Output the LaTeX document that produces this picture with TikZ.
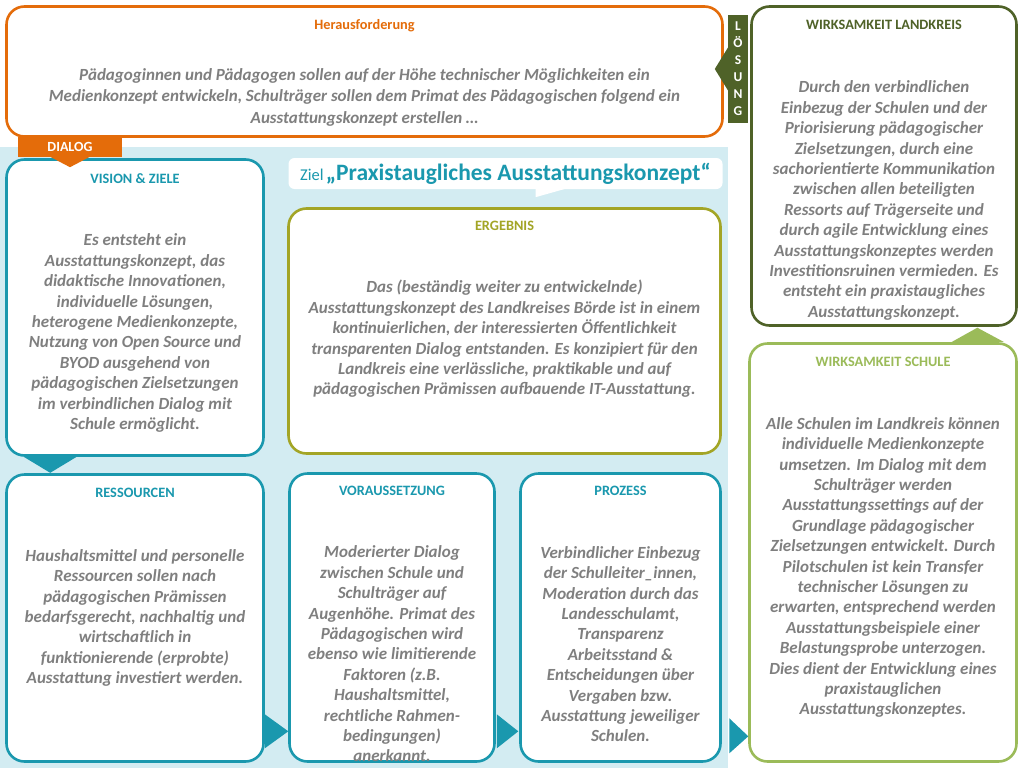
\documentclass[tikz,border=0pt]{standalone}
\usepackage{fontspec}
\setmainfont{Carlito}
\usetikzlibrary{calc,positioning}
\definecolor{bdteal}{HTML}{1A98AE}
\definecolor{bdorange}{HTML}{E46C0A}
\definecolor{bddarkgreen}{HTML}{4F6228}
\definecolor{bdlightgreen}{HTML}{9BBB59}
\definecolor{bdolive}{HTML}{A3A526}
\definecolor{bdgray}{HTML}{7F7F7F}
\definecolor{bdbg}{HTML}{D3ECF2}

\begin{document}
\begin{tikzpicture}[x=1pt, y=-1pt,
    card/.style={draw, line width=2.6pt, rounded corners=18pt, fill=white, inner sep=0pt},
    cardtitle/.style={font=\bfseries\fontsize{14.3}{16}\selectfont, inner sep=0pt,
      text height=9.5pt, text depth=2pt},
    cardtext/.style={font=\bfseries\itshape\fontsize{17}{20.4}\selectfont, text=bdgray,
      align=center, inner sep=0pt, execute at begin node=\strut},
    tab/.style={inner sep=0pt, text=white, font=\bfseries\fontsize{14}{15}\selectfont}
  ]
    \useasboundingbox (0,0) rectangle (1024,768);
    \fill[bdbg] (0,147) rectangle (728,768);

    \node[card, draw=bdorange, minimum width=716, minimum height=130] (challenge) at (364.5,71.5) {};
    \node[card, draw=bddarkgreen, minimum width=265, minimum height=319] (landkreis) at (884,166) {};
    \node[card, draw=bdlightgreen, minimum width=267, minimum height=418] (schule) at (883,552.5) {};
    \node[card, draw=bdteal, minimum width=257, minimum height=296] (vision) at (135,307.5) {};
    \node[card, draw=bdolive, minimum width=432, minimum height=245] (ergebnis) at (504.5,331) {};
    \node[card, draw=bdteal, minimum width=257, minimum height=287] (ressourcen) at (135,618) {};
    \node[card, draw=bdteal, minimum width=205, minimum height=288] (voraussetzung) at (392,617.5) {};
    \node[card, draw=bdteal, minimum width=200, minimum height=288] (prozess) at (620.5,617.5) {};

    \node[fill=white, rounded corners=6pt, minimum width=434, minimum height=31, inner sep=0pt, text=bdteal] (ziel) at (505.5,173.5)
      {{\fontsize{16.5}{18}\selectfont Ziel} {\bfseries\fontsize{23.5}{25}\selectfont „Praxistaugliches Ausstattungskonzept“}};
    \fill[white] ($(ziel.south)+(30,-1)$) -- ($(ziel.south)+(62,-1)$) -- ($(ziel.south)+(30,8)$) -- cycle;

    \node[cardtitle, text=bdorange, below=14.5pt of challenge.north] (challengetitle) {Herausforderung};
    \node[cardtitle, text=bddarkgreen, below=14.5pt of landkreis.north] (landkreistitle) {WIRKSAMKEIT LANDKREIS};
    \node[cardtitle, text=bdlightgreen, below=14.5pt of schule.north] (schuletitle) {WIRKSAMKEIT SCHULE};
    \node[cardtitle, text=bdteal, below=16pt of vision.north] (visiontitle) {VISION \& ZIELE};
    \node[cardtitle, text=bdolive, below=13.5pt of ergebnis.north] (ergebnistitle) {ERGEBNIS};
    \node[cardtitle, text=bdteal, below=15pt of ressourcen.north] (ressourcentitle) {RESSOURCEN};
    \node[cardtitle, text=bdteal, below=13.5pt of voraussetzung.north] (voraussetzungtitle) {VORAUSSETZUNG};
    \node[cardtitle, text=bdteal, below=13.5pt of prozess.north] (prozesstitle) {PROZESS};

    \node[cardtext, font=\bfseries\itshape\fontsize{17}{21.5}\selectfont, below=63pt of challenge.north] (challengetext)
      {Pädagoginnen und Pädagogen sollen auf der Höhe technischer Möglichkeiten ein\\Medienkonzept entwickeln, Schulträger sollen dem Primat des Pädagogischen folgend ein\\Ausstattungskonzept erstellen …};
    \node[cardtext, below=75.5pt of landkreis.north] (landkreistext)
      {Durch den verbindlichen\\Einbezug der Schulen und der\\Priorisierung pädagogischer\\Zielsetzungen, durch eine\\sachorientierte Kommunikation\\zwischen allen beteiligten\\Ressorts auf Trägerseite und\\durch agile Entwicklung eines\\Ausstattungskonzeptes werden\\Investitionsruinen vermieden. Es\\entsteht ein praxistaugliches\\Ausstattungskonzept.};
    \node[cardtext, below=75pt of schule.north] (schuletext)
      {Alle Schulen im Landkreis können\\individuelle Medienkonzepte\\umsetzen. Im Dialog mit dem\\Schulträger werden\\Ausstattungssettings auf der\\Grundlage pädagogischer\\Zielsetzungen entwickelt. Durch\\Pilotschulen ist kein Transfer\\technischer Lösungen zu\\erwarten, entsprechend werden\\Ausstattungsbeispiele einer\\Belastungsprobe unterzogen.\\Dies dient der Entwicklung eines\\praxistauglichen\\Ausstattungskonzeptes.};
    \node[cardtext, below=75.5pt of vision.north] (visiontext)
      {Es entsteht ein\\Ausstattungskonzept, das\\didaktische Innovationen,\\individuelle Lösungen,\\heterogene Medienkonzepte,\\Nutzung von Open Source und\\BYOD ausgehend von\\pädagogischen Zielsetzungen\\im verbindlichen Dialog mit\\Schule ermöglicht.};
    \node[cardtext, below=73pt of ergebnis.north] (ergebnistext)
      {Das (beständig weiter zu entwickelnde)\\Ausstattungskonzept des Landkreises Börde ist in einem\\kontinuierlichen, der interessierten Öffentlichkeit\\transparenten Dialog entstanden. Es konzipiert für den\\Landkreis eine verlässliche, praktikable und auf\\pädagogischen Prämissen aufbauende IT-Ausstattung.};
    \node[cardtext, below=76pt of ressourcen.north] (ressourcentext)
      {Haushaltsmittel und personelle\\Ressourcen sollen nach\\pädagogischen Prämissen\\bedarfsgerecht, nachhaltig und\\wirtschaftlich in\\funktionierende (erprobte)\\Ausstattung investiert werden.};
    \node[cardtext, below=73.5pt of voraussetzung.north] (voraussetzungtext)
      {Moderierter Dialog\\zwischen Schule und\\Schulträger auf\\Augenhöhe. Primat des\\Pädagogischen wird\\ebenso wie limitierende\\Faktoren (z.B.\\Haushaltsmittel,\\rechtliche Rahmen-\\bedingungen)\\anerkannt.};
    \node[cardtext, below=74pt of prozess.north] (prozesstext)
      {Verbindlicher Einbezug\\der Schulleiter\_innen,\\Moderation durch das\\Landesschulamt,\\Transparenz\\Arbeitsstand \&\\Entscheidungen über\\Vergaben bzw.\\Ausstattung jeweiliger\\Schulen.};

    \node[tab, fill=bdorange, minimum width=104, minimum height=20] (dialog) at (70,147) {DIALOG};
    \fill[bdorange] ($(dialog.south)+(-20,-0.5)$) -- ($(dialog.south)+(20,-0.5)$) -- ($(dialog.south)+(0,10)$) -- cycle;
    \node[tab, fill=bddarkgreen, minimum width=20, minimum height=108, align=center,
      font=\bfseries\fontsize{13.5}{17}\selectfont] (loesung) at (738,69) {L\\Ö\\S\\U\\N\\G};
    \fill[bddarkgreen] ($(loesung.west)+(0.5,-22)$) -- ($(loesung.west)+(0.5,22)$) -- ($(loesung.west)+(-13,0)$) -- cycle;

    \fill[bdteal] ($(vision.south west)+(18.5,0)$) -- ($(vision.south west)+(71.5,0)$) -- ($(vision.south west)+(45,16)$) -- cycle;
    \fill[bdteal] ($(ressourcen.south east)+(0,-48.5)$) -- ($(ressourcen.south east)+(0,-14.5)$) -- ($(ressourcen.south east)+(23.5,-31.5)$) -- cycle;
    \fill[bdteal] ($(voraussetzung.south east)+(1,-48.5)$) -- ($(voraussetzung.south east)+(1,-14.5)$) -- ($(voraussetzung.south east)+(22.5,-31.5)$) -- cycle;
    \fill[bdteal] ($(prozess.south east)+(7.5,-44.5)$) -- ($(prozess.south east)+(7.5,-9.5)$) -- ($(prozess.south east)+(26.5,-26.5)$) -- cycle;
    \fill[bdlightgreen] ($(schule.north east)+(-66.5,0)$) -- ($(schule.north east)+(-13.5,0)$) -- ($(schule.north east)+(-40.5,-14.5)$) -- cycle;
  \end{tikzpicture}
\end{document}
